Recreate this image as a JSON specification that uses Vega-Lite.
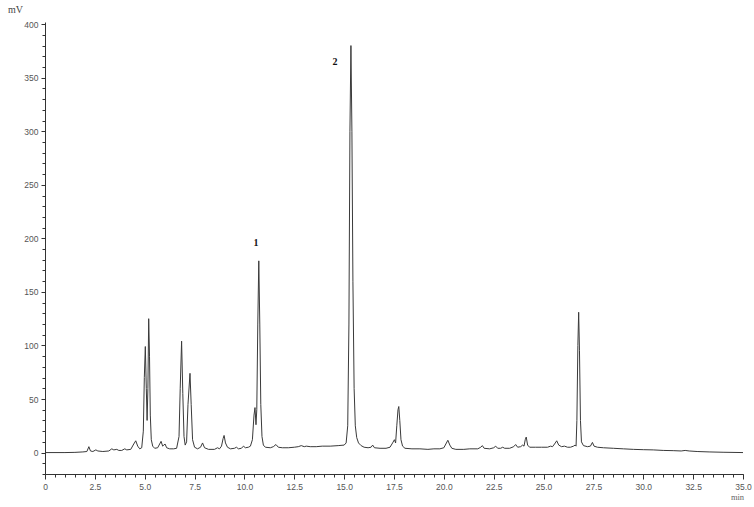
{
  "$schema": "https://vega.github.io/schema/vega-lite/v6.json",
  "width": 698,
  "height": 452,
  "autosize": {"type": "none"},
  "padding": {"left": 45, "top": 22, "right": 11, "bottom": 33},
  "background": "white",
  "config": {"view": {"stroke": null}},
  "datasets": {
    "trace": [
      {"t":0,"v":0},{"t":1,"v":0},{"t":1.5,"v":0.2},{"t":1.9,"v":0.6},{"t":2.1,"v":1},{"t":2.2,"v":5.5},{"t":2.28,"v":1.5},{"t":2.4,"v":1},{"t":2.55,"v":2.5},{"t":2.65,"v":1.5},{"t":2.9,"v":1},{"t":3.2,"v":1.5},{"t":3.35,"v":3.5},{"t":3.45,"v":2.5},{"t":3.6,"v":3},{"t":3.7,"v":2},{"t":3.85,"v":2},{"t":4.0,"v":3.5},{"t":4.1,"v":2.5},{"t":4.3,"v":3},{"t":4.45,"v":8},{"t":4.55,"v":11},{"t":4.65,"v":6},{"t":4.75,"v":3.5},{"t":4.85,"v":4.5},{"t":4.93,"v":20},{"t":4.98,"v":70},{"t":5.03,"v":99},{"t":5.08,"v":60},{"t":5.12,"v":30},{"t":5.16,"v":60},{"t":5.2,"v":125},{"t":5.24,"v":90},{"t":5.28,"v":35},{"t":5.33,"v":12},{"t":5.4,"v":6},{"t":5.5,"v":4},{"t":5.65,"v":4.5},{"t":5.75,"v":8},{"t":5.82,"v":10.5},{"t":5.9,"v":6},{"t":5.96,"v":7},{"t":6.02,"v":8},{"t":6.1,"v":4.5},{"t":6.25,"v":3.5},{"t":6.45,"v":3.5},{"t":6.6,"v":4},{"t":6.72,"v":15},{"t":6.78,"v":60},{"t":6.85,"v":104},{"t":6.91,"v":55},{"t":6.97,"v":15},{"t":7.03,"v":7},{"t":7.1,"v":10},{"t":7.17,"v":45},{"t":7.27,"v":74},{"t":7.33,"v":45},{"t":7.4,"v":12},{"t":7.5,"v":5},{"t":7.65,"v":3.5},{"t":7.8,"v":5},{"t":7.9,"v":9},{"t":8.0,"v":4.5},{"t":8.2,"v":3},{"t":8.5,"v":3},{"t":8.65,"v":4.5},{"t":8.75,"v":3.5},{"t":8.85,"v":6},{"t":8.93,"v":13},{"t":8.98,"v":16},{"t":9.05,"v":9},{"t":9.15,"v":5},{"t":9.3,"v":3.5},{"t":9.5,"v":4},{"t":9.6,"v":5},{"t":9.7,"v":3.5},{"t":9.85,"v":4},{"t":9.95,"v":6},{"t":10.05,"v":4.5},{"t":10.2,"v":5},{"t":10.3,"v":6},{"t":10.4,"v":12},{"t":10.48,"v":35},{"t":10.53,"v":42},{"t":10.58,"v":26},{"t":10.62,"v":40},{"t":10.67,"v":120},{"t":10.72,"v":179},{"t":10.77,"v":120},{"t":10.82,"v":45},{"t":10.88,"v":15},{"t":10.95,"v":7},{"t":11.05,"v":5},{"t":11.3,"v":4.5},{"t":11.45,"v":5.5},{"t":11.58,"v":7.5},{"t":11.7,"v":5},{"t":11.9,"v":4.5},{"t":12.2,"v":4.5},{"t":12.5,"v":5},{"t":12.7,"v":5.5},{"t":12.85,"v":6.5},{"t":13.0,"v":5.5},{"t":13.1,"v":6},{"t":13.3,"v":5.5},{"t":13.6,"v":5.5},{"t":13.9,"v":6},{"t":14.3,"v":6},{"t":14.7,"v":6.5},{"t":15.0,"v":7},{"t":15.1,"v":9},{"t":15.18,"v":25},{"t":15.24,"v":120},{"t":15.29,"v":300},{"t":15.34,"v":380},{"t":15.39,"v":300},{"t":15.44,"v":160},{"t":15.5,"v":60},{"t":15.56,"v":25},{"t":15.63,"v":14},{"t":15.72,"v":9},{"t":15.85,"v":6.5},{"t":16.0,"v":5},{"t":16.2,"v":4.5},{"t":16.35,"v":5},{"t":16.43,"v":7},{"t":16.52,"v":4.5},{"t":16.8,"v":4},{"t":17.1,"v":4},{"t":17.3,"v":5},{"t":17.43,"v":9},{"t":17.52,"v":12},{"t":17.58,"v":9},{"t":17.64,"v":25},{"t":17.7,"v":40},{"t":17.74,"v":43},{"t":17.79,"v":30},{"t":17.85,"v":12},{"t":17.93,"v":6},{"t":18.05,"v":4},{"t":18.4,"v":3.5},{"t":18.8,"v":3.5},{"t":19.2,"v":3},{"t":19.5,"v":3.5},{"t":19.8,"v":3.5},{"t":20.0,"v":4.5},{"t":20.1,"v":8},{"t":20.2,"v":11.5},{"t":20.3,"v":7},{"t":20.4,"v":4},{"t":20.6,"v":3},{"t":21.0,"v":3},{"t":21.3,"v":3.5},{"t":21.7,"v":3.5},{"t":21.85,"v":5},{"t":21.93,"v":6.5},{"t":22.02,"v":4},{"t":22.3,"v":3.5},{"t":22.5,"v":4.5},{"t":22.6,"v":6},{"t":22.7,"v":4},{"t":22.85,"v":4},{"t":22.95,"v":5},{"t":23.05,"v":4},{"t":23.3,"v":4},{"t":23.5,"v":5.5},{"t":23.6,"v":7.5},{"t":23.7,"v":5},{"t":23.85,"v":5.5},{"t":23.95,"v":7},{"t":24.02,"v":6},{"t":24.08,"v":12},{"t":24.13,"v":14.5},{"t":24.2,"v":7},{"t":24.3,"v":5},{"t":24.6,"v":5},{"t":24.9,"v":5},{"t":25.2,"v":5},{"t":25.35,"v":6},{"t":25.45,"v":5.5},{"t":25.55,"v":8},{"t":25.66,"v":11},{"t":25.76,"v":7},{"t":25.9,"v":5.5},{"t":26.05,"v":6},{"t":26.2,"v":5},{"t":26.35,"v":5},{"t":26.5,"v":6},{"t":26.58,"v":7},{"t":26.63,"v":6},{"t":26.67,"v":30},{"t":26.72,"v":100},{"t":26.76,"v":131},{"t":26.8,"v":95},{"t":26.85,"v":30},{"t":26.9,"v":10},{"t":27.0,"v":6.5},{"t":27.2,"v":5.5},{"t":27.35,"v":6},{"t":27.45,"v":9.5},{"t":27.53,"v":6},{"t":27.7,"v":5},{"t":28.0,"v":4.5},{"t":28.5,"v":4},{"t":29.0,"v":3.5},{"t":29.5,"v":3},{"t":30.0,"v":2.7},{"t":30.5,"v":2.5},{"t":31.0,"v":2},{"t":31.5,"v":1.8},{"t":31.9,"v":1.5},{"t":32.1,"v":2},{"t":32.3,"v":1.5},{"t":32.7,"v":1},{"t":33.3,"v":0.6},{"t":34.0,"v":0.3},{"t":35.0,"v":0}
    ],
    "labels": [
      {"t": 10.58, "v": 196, "label": "1"},
      {"t": 14.54, "v": 364.5, "label": "2"}
    ]
  },
  "resolve": {"axis": {"x": "independent", "y": "independent"}},
  "layer": [
    {
      "data": {"name": "trace"},
      "mark": {"type": "line", "color": "#3a3a3a", "strokeWidth": 1, "interpolate": "linear"},
      "encoding": {
        "x": {
          "field": "t", "type": "quantitative",
          "scale": {"domain": [0, 35], "nice": false, "zero": false},
          "axis": {
            "orient": "bottom",
            "values": [0, 2.5, 5, 7.5, 10, 12.5, 15, 17.5, 20, 22.5, 25, 27.5, 30, 32.5, 35],
            "labelExpr": "datum.value == 0 ? '0' : format(datum.value, '.1f')",
            "grid": false, "domainColor": "#333", "tickColor": "#333", "tickSize": 5,
            "labelFont": "Liberation Sans", "labelFontSize": 8.5, "labelColor": "#555", "labelPadding": 3,
            "labelFlush": false, "labelOverlap": false,
            "title": "min", "titleFont": "Liberation Serif", "titleFontSize": 8.5, "titleFontWeight": "normal",
            "titleColor": "#666", "titleX": 692, "titleY": 22, "titleAlign": "center", "titleBaseline": "middle", "titleAngle": 0
          }
        },
        "y": {
          "field": "v", "type": "quantitative",
          "scale": {"domain": [-20, 402], "nice": false, "zero": false},
          "axis": {
            "orient": "left",
            "values": [0, 50, 100, 150, 200, 250, 300, 350, 400],
            "grid": false, "domainColor": "#333", "tickColor": "#333", "tickSize": 4,
            "labelFont": "Liberation Sans", "labelFontSize": 8.5, "labelColor": "#555", "labelPadding": 3,
            "labelFlush": false, "labelOverlap": false,
            "title": "mV", "titleFont": "Liberation Serif", "titleFontSize": 10, "titleFontWeight": "normal",
            "titleColor": "#444", "titleX": -30, "titleY": -13, "titleAlign": "center", "titleBaseline": "middle", "titleAngle": 0
          }
        }
      }
    },
    {
      "data": {"name": "labels"},
      "mark": {"type": "text", "font": "Liberation Serif", "fontSize": 10, "fontWeight": "bold", "color": "#111", "align": "center", "baseline": "middle"},
      "encoding": {
        "x": {
          "field": "t", "type": "quantitative",
          "axis": {
            "orient": "bottom",
            "values": [0,0.5,1,1.5,2,2.5,3,3.5,4,4.5,5,5.5,6,6.5,7,7.5,8,8.5,9,9.5,10,10.5,11,11.5,12,12.5,13,13.5,14,14.5,15,15.5,16,16.5,17,17.5,18,18.5,19,19.5,20,20.5,21,21.5,22,22.5,23,23.5,24,24.5,25,25.5,26,26.5,27,27.5,28,28.5,29,29.5,30,30.5,31,31.5,32,32.5,33,33.5,34,34.5,35],
            "labels": false, "domain": false, "grid": false, "tickColor": "#333", "tickSize": 3, "title": null
          }
        },
        "y": {
          "field": "v", "type": "quantitative",
          "axis": {
            "orient": "left",
            "values": [-20,-10,0,10,20,30,40,50,60,70,80,90,100,110,120,130,140,150,160,170,180,190,200,210,220,230,240,250,260,270,280,290,300,310,320,330,340,350,360,370,380,390,400],
            "labels": false, "domain": false, "grid": false, "tickColor": "#333", "tickSize": 3, "title": null
          }
        },
        "text": {"field": "label", "type": "nominal"}
      }
    }
  ]
}
